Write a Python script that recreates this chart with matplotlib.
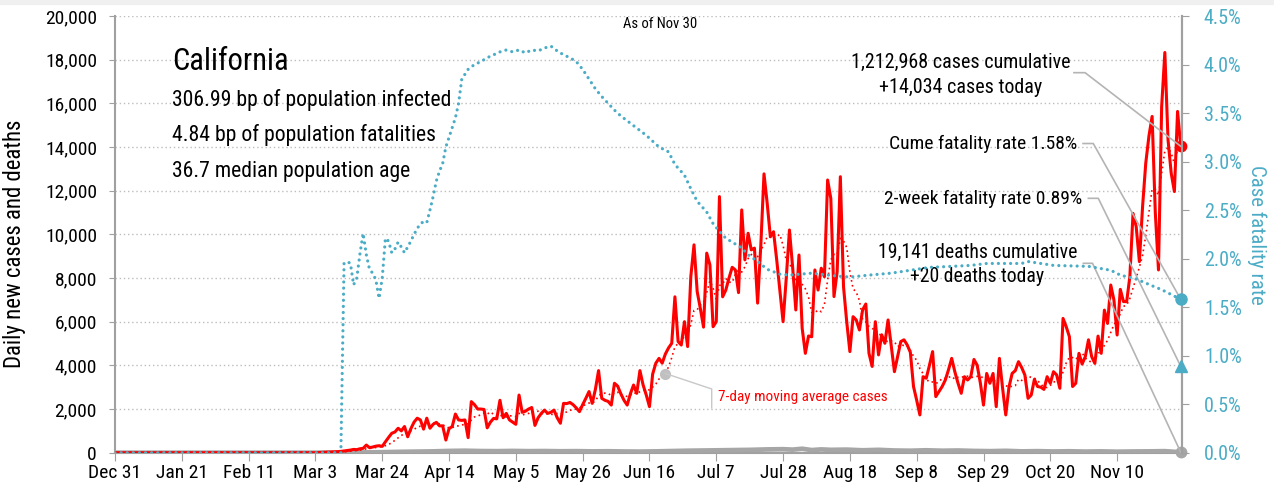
"""
California daily cases, deaths and case fatality rate, as of Nov 30
"""
import numpy as np
import pandas as pd
import matplotlib
matplotlib.use('Agg')
import matplotlib.pyplot as plt
from matplotlib.ticker import FuncFormatter

plt.rcParams['font.family'] = ['Roboto Condensed', 'Archivo Narrow',
                               'DejaVu Sans']

RED = '#ff0000'
TEAL = '#4bacc6'
GRAY = '#a6a6a6'
START = pd.Timestamp('2019-12-31')

# daily new cases, Mar 4 .. Nov 30 (zero before)
cases_start = pd.Timestamp('2020-03-04')
cases_daily = [
    10, 15, 20, 25, 30, 40, 50, 60, 80, 100,
    120, 150, 140, 180, 200, 350, 230, 260, 300, 320,
    290, 500, 700, 890, 950, 1120, 1000, 1200, 730, 1100,
    1400, 1580, 1500, 1080, 1580, 1120, 1300, 1390, 1230, 1230,
    580, 1100, 1200, 1770, 1500, 1480, 1500, 690, 2340, 2200,
    2000, 2000, 1980, 1140, 1400, 1570, 1550, 2400, 1600, 1800,
    1500, 1400, 1300, 2640, 1850, 1900, 2000, 2070, 1250, 1600,
    1800, 1950, 1800, 1850, 1950, 1600, 1350, 2260, 2250, 2300,
    2200, 2050, 1880, 2200, 2490, 2800, 2260, 2900, 3760, 2490,
    2400, 2350, 2180, 3180, 3050, 2700, 2400, 2180, 2700, 3100,
    2720, 3760, 3100, 2640, 2110, 3600, 4100, 4320, 4100, 4520,
    4800, 5010, 7140, 5090, 4930, 6000, 4860, 8070, 9520, 7380,
    6600, 5750, 9140, 8600, 5770, 6000, 11730, 7140, 7450, 8000,
    8490, 8370, 7330, 11120, 8830, 10050, 9290, 9370, 6850, 9500,
    12770, 11430, 9890, 10120, 8830, 7400, 6000, 8000, 10200, 8500,
    6536, 9054, 5700, 4550, 5345, 5310, 8370, 7450, 8450, 8060,
    12490, 11650, 7150, 8290, 12640, 7600, 6000, 4630, 6230, 6080,
    5620, 6540, 6810, 4550, 3950, 6000, 4480, 5400, 5010, 6080,
    4900, 3710, 4400, 5090, 5170, 4940, 4600, 3030, 2400, 1730,
    3480, 3410, 4000, 4630, 2570, 2800, 3030, 3330, 3800, 4320,
    3700, 3180, 2720, 3480, 3330, 3480, 4270, 4010, 3200, 2180,
    3630, 3180, 3630, 2110, 4320, 2950, 1730, 3000, 3630, 3760,
    4170, 3900, 3560, 2490, 2640, 3360, 3030, 3000, 2900, 3480,
    3180, 3710, 3560, 2950, 6150, 5770, 5310, 3030, 3180, 4550,
    4060, 4400, 5170, 4400, 4090, 5340, 4550, 6530, 5920, 7680,
    6990, 5390, 7480, 6920, 6920, 8060, 10960, 10350, 8750, 11270,
    13260, 14500, 15400, 11000, 8370, 15850, 18330, 14330, 12800, 11960,
    15630, 14034,
]

# daily deaths (days since Dec 31)
death_days = [0, 64, 66, 70, 75, 80, 85, 90, 95, 100, 105, 110, 115, 120,
              125, 130, 135, 140, 145, 150, 155, 160, 165, 170, 175, 180,
              185, 190, 195, 200, 205, 210, 213, 216, 219, 222, 225, 230,
              235, 240, 245, 250, 255, 260, 265, 270, 275, 280, 285, 290,
              295, 300, 305, 310, 315, 320, 325, 330, 333, 335]
death_values = [0, 0, 2, 4, 8, 15, 25, 40, 50, 60, 80, 90, 75, 70,
                80, 70, 75, 65, 70, 60, 65, 55, 50, 60, 75, 90,
                100, 110, 120, 130, 150, 160, 140, 180, 120, 150, 130, 140,
                110, 130, 100, 90, 110, 90, 100, 80, 70, 85, 60, 70,
                55, 65, 50, 60, 45, 55, 60, 70, 40, 20]

# cumulative case fatality rate, % (days since Dec 31)
cfr_days = [0, 71, 72, 73, 74, 75, 76, 77, 78, 79, 80, 81, 82, 83, 84, 85,
            86, 87, 88, 89, 90, 91, 92, 93, 94, 95, 96, 97, 98, 99, 100,
            101, 102, 103, 104, 105, 106, 107, 108, 109, 110, 111, 113, 115,
            117, 119, 121, 123, 125, 127, 129, 131, 133, 135, 137, 139, 141,
            143, 145, 147, 149, 151, 153, 155, 157, 159, 161, 163, 165, 167,
            169, 171, 174, 176, 179, 181, 183, 186, 188, 190, 192, 194, 197,
            199, 202, 205, 209, 212, 219, 227, 231, 237, 244, 250, 256, 263,
            269, 274, 285, 287, 295, 306, 313, 316, 321, 326, 329, 335]
cfr_values = [0, 0, 1.95, 1.97, 1.95, 1.73, 1.80, 2.05, 2.26, 2.04, 1.89,
              1.85, 1.78, 1.59, 1.80, 2.21, 2.18, 2.06, 2.10, 2.17, 2.12,
              2.06, 2.12, 2.18, 2.25, 2.31, 2.36, 2.38, 2.37, 2.50, 2.64,
              2.80, 2.90, 2.98, 3.15, 3.25, 3.35, 3.45, 3.60, 3.85, 3.90,
              3.95, 4.00, 4.03, 4.07, 4.10, 4.13, 4.15, 4.13, 4.15, 4.12,
              4.15, 4.14, 4.17, 4.19, 4.14, 4.10, 4.07, 4.03, 3.95, 3.85,
              3.75, 3.67, 3.60, 3.53, 3.47, 3.42, 3.37, 3.32, 3.27, 3.21,
              3.15, 3.10, 2.97, 2.86, 2.72, 2.59, 2.48, 2.36, 2.28, 2.21,
              2.17, 2.11, 2.04, 1.97, 1.89, 1.84, 1.83, 1.85, 1.82, 1.81,
              1.83, 1.85, 1.88, 1.91, 1.92, 1.93, 1.95, 1.95, 1.97, 1.93,
              1.92, 1.88, 1.83, 1.79, 1.72, 1.68, 1.58]

two_week_cfr = 0.89
tick_days = list(range(0, 316, 21))

n_pad = (cases_start - START).days
cases = pd.Series([0] * n_pad + cases_daily,
                  index=pd.date_range(START, periods=n_pad + len(cases_daily)))
cases_ma = cases.rolling(7, min_periods=1).mean()
death_dates = START + pd.to_timedelta(death_days, unit='D')
cfr_dates = START + pd.to_timedelta(cfr_days, unit='D')
last = cases.index[-1]

fig = plt.figure(figsize=(12.74, 4.93), dpi=100)
fig.add_artist(plt.Rectangle((0, 1 - 4 / 493), 1, 4 / 493,
                             transform=fig.transFigure, color='#f0f0f0'))
ax = fig.add_axes([115 / 1274, 1 - 452.7 / 493, 1066.7 / 1274, 436.7 / 493])
ax2 = ax.twinx()

# cases and deaths
ax.plot(death_dates, death_values, color=GRAY, lw=3.4, solid_capstyle='round',
        zorder=3)
ax.plot(cases.index, cases.values, color=RED, lw=2.2, zorder=4)
ax.plot(cases_ma.index, cases_ma.values, color=RED, lw=1.2,
        linestyle=(0, (1, 2)), zorder=4)
ax.plot([last], [cases.iloc[-1]], 'o', color=RED, ms=7.5, clip_on=False,
        zorder=6)
ax.plot([death_dates[-1]], [death_values[-1]], 'o', color=GRAY, ms=7.5,
        clip_on=False, zorder=6)

# fatality rate
ax2.plot(cfr_dates, cfr_values, color=TEAL, lw=2.3,
         linestyle=(0, (0.01, 1.9)), dash_capstyle='round', zorder=5)
ax2.plot([cfr_dates[-1]], [cfr_values[-1]], 'o', color=TEAL, ms=8,
         clip_on=False, zorder=6)
ax2.plot([last], [two_week_cfr], '^', color=TEAL, ms=9, clip_on=False,
         zorder=6)

# axes
ax.set_xlim(START, START + pd.Timedelta(days=335.3))
ax.set_ylim(0, 20000)
ax2.set_ylim(0, 4.5)
ticks = START + pd.to_timedelta(tick_days, unit='D')
ax.set_xticks(ticks)
ax.set_xticklabels([f"{d:%b} {d.day}" for d in ticks])
ax.set_yticks(np.arange(0, 20001, 2000))
ax.yaxis.set_major_formatter(FuncFormatter(lambda v, p: f"{v:,.0f}"))
ax2.set_yticks(np.arange(0, 4.51, 0.5))
ax2.yaxis.set_major_formatter(FuncFormatter(lambda v, p: f"{v:.1f}%"))

ax.yaxis.grid(True, linestyle=(0, (1, 2)), color='#bdbdbd', lw=1)
ax.set_axisbelow(True)
for a in (ax, ax2):
    a.spines['top'].set_visible(False)
    for s in ('left', 'right', 'bottom'):
        a.spines[s].set_color('#a0a0a0')
        a.spines[s].set_linewidth(1.5)
ax2.spines['left'].set_visible(False)
ax2.spines['bottom'].set_visible(False)
ax.tick_params(axis='x', length=6, color='#a0a0a0', labelsize=14, pad=2)
ax.tick_params(axis='y', length=4, color='#a0a0a0', labelsize=14, pad=9)
ax2.tick_params(axis='y', length=5, color='#a0a0a0', labelsize=14.5,
                labelcolor=TEAL, pad=11)

ax.set_ylabel('Daily new cases and deaths', fontsize=16.4)
ax.yaxis.set_label_coords(-0.0834, 0.478)
ax2.set_ylabel('Case fatality rate', fontsize=15, color=TEAL, rotation=-90,
               va='center', ha='center')
ax2.yaxis.set_label_coords(1.0706, 0.4985)

# texts
ax.text(0.511, 0.982, 'As of Nov 30', transform=ax.transAxes, fontsize=10.5,
        ha='center', va='center')
ax.text(0.054, 0.895, 'California', transform=ax.transAxes, fontsize=22,
        ha='left', va='center')
info = ['306.99 bp of population infected',
        '4.84 bp of population fatalities',
        '36.7 median population age']
for txt, y in zip(info, [0.808, 0.7275, 0.645]):
    ax.text(0.053, y, txt, transform=ax.transAxes, fontsize=15.7,
            ha='left', va='center')


def leader(x0, x1, y, target_ax, tx, ty):
    """gray callout: short flat stub then a line to the marker"""
    disp = target_ax.transData.transform(
        (matplotlib.dates.date2num(tx), ty))
    tgt = ax2.transAxes.inverted().transform(disp)
    ax2.plot([x0, x1, tgt[0]], [y, y, tgt[1]], transform=ax2.transAxes,
             color='#b4b4b4', lw=1.2, clip_on=False, zorder=2)


ax2.text(0.8953, 0.865, '1,212,968 cases cumulative\n+14,034 cases today',
         transform=ax2.transAxes, fontsize=14.4, ha='right', va='center',
         multialignment='center', linespacing=1.35)
leader(0.899, 0.9094, 0.8702, ax, last, cases.iloc[-1])
ax2.text(0.9019, 0.707, 'Cume fatality rate 1.58%', transform=ax2.transAxes,
         fontsize=14, ha='right', va='center')
leader(0.9075, 0.9171, 0.708, ax2, cfr_dates[-1], cfr_values[-1])
ax2.text(0.9065, 0.581, '2-week fatality rate 0.89%', transform=ax2.transAxes,
         fontsize=14, ha='right', va='center')
leader(0.9125, 0.9218, 0.5825, ax2, last, two_week_cfr)
ax2.text(0.9019, 0.431, '19,141 deaths cumulative\n+20 deaths today',
         transform=ax2.transAxes, fontsize=14.2, ha='right', va='center',
         multialignment='center', linespacing=1.35)
leader(0.9078, 0.9164, 0.4337, ax, death_dates[-1], death_values[-1])

# moving average callout
ma_day = START + pd.Timedelta(days=173)
ax.plot([ma_day], [cases_ma[ma_day]], 'o', color='#c0c0c0', ms=7, zorder=7)
disp = ax.transData.transform((matplotlib.dates.date2num(ma_day),
                               cases_ma[ma_day]))
p0 = ax.transAxes.inverted().transform(disp)
ax.plot([p0[0], 0.5594, 0.5594], [p0[1], 0.1459, 0.1024],
        transform=ax.transAxes, color='#c8c8c8', lw=1, zorder=7)
ax.text(0.5653, 0.1276, '7-day moving average cases', transform=ax.transAxes,
        fontsize=11, color=RED, ha='left', va='center', zorder=7)

fig.savefig('out.png', dpi=100)
